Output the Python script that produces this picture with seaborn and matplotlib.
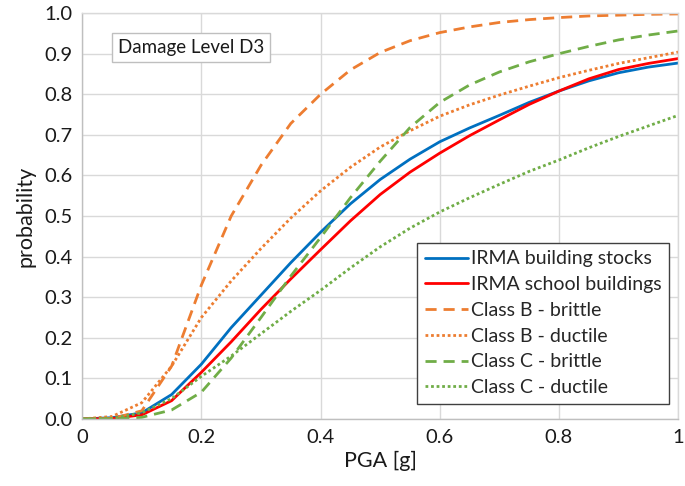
import matplotlib
matplotlib.use("Agg")
import matplotlib.pyplot as plt
import seaborn as sns
import pandas as pd

# PGA grid and curves
pga = [0, 0.05, 0.1, 0.15, 0.2, 0.25, 0.3, 0.35, 0.4, 0.45, 0.5,
       0.55, 0.6, 0.65, 0.7, 0.75, 0.8, 0.85, 0.9, 0.95, 1.0]

irma_stock = [0, 0.003, 0.015, 0.06, 0.135, 0.225, 0.305, 0.385, 0.46, 0.53, 0.59,
              0.64, 0.683, 0.717, 0.748, 0.78, 0.808, 0.833, 0.853, 0.867, 0.877]
irma_school = [0, 0.001, 0.01, 0.045, 0.115, 0.19, 0.27, 0.345, 0.417, 0.488, 0.553,
               0.608, 0.655, 0.698, 0.737, 0.775, 0.808, 0.838, 0.861, 0.876, 0.888]
b_brittle = [0, 0.001, 0.02, 0.13, 0.33, 0.50, 0.625, 0.728, 0.80, 0.86, 0.903,
             0.932, 0.952, 0.966, 0.977, 0.984, 0.989, 0.993, 0.995, 0.997, 0.998]
b_ductile = [0, 0.006, 0.04, 0.13, 0.25, 0.34, 0.42, 0.495, 0.562, 0.62, 0.67,
             0.71, 0.746, 0.774, 0.798, 0.82, 0.841, 0.859, 0.876, 0.89, 0.904]
c_brittle = [0, 0.0, 0.004, 0.022, 0.066, 0.15, 0.25, 0.352, 0.447, 0.545, 0.635,
             0.718, 0.78, 0.823, 0.855, 0.88, 0.90, 0.918, 0.934, 0.946, 0.956]
c_ductile = [0, 0.001, 0.015, 0.05, 0.105, 0.155, 0.21, 0.265, 0.317, 0.372, 0.424,
             0.47, 0.51, 0.545, 0.578, 0.61, 0.638, 0.668, 0.696, 0.722, 0.748]

series = [
    ("IRMA building stocks", irma_stock, "#0070C0", "-"),
    ("IRMA school buildings", irma_school, "#FF0000", "-"),
    ("Class B - brittle", b_brittle, "#ED7D31", (0, (4, 2.5))),
    ("Class B - ductile", b_ductile, "#ED7D31", (0, (1, 1))),
    ("Class C - brittle", c_brittle, "#70AD47", (0, (4, 2.5))),
    ("Class C - ductile", c_ductile, "#70AD47", (0, (1, 1))),
]

sns.set_theme(style="whitegrid")
plt.rcParams["font.family"] = ["Lato", "DejaVu Sans"]

fig, ax = plt.subplots(figsize=(6.85, 4.86), dpi=100)
fig.subplots_adjust(left=0.12, right=0.99, top=0.973, bottom=0.138)

for name, vals, col, ls in series:
    df = pd.DataFrame({"PGA": pga, "p": vals})
    sns.lineplot(data=df, x="PGA", y="p", ax=ax, color=col, linewidth=2.0,
                 linestyle=ls, label=name)

ax.set_xlim(0, 1)
ax.set_ylim(0, 1)
ax.set_xticks([0, 0.2, 0.4, 0.6, 0.8, 1.0])
ax.set_xticklabels(["0", "0.2", "0.4", "0.6", "0.8", "1"])
ax.set_yticks([i / 10 for i in range(11)])
ax.set_yticklabels([f"{i / 10:.1f}" for i in range(11)])
ax.tick_params(labelsize=14.5, colors="#1a1a1a", length=0, pad=7)
ax.set_xlabel("PGA [g]", fontsize=15.5, color="#1a1a1a", labelpad=4)
ax.set_ylabel("probability", fontsize=15.5, color="#1a1a1a", labelpad=6)
ax.grid(color="#D9D9D9", linewidth=1)
for s in ax.spines.values():
    s.set_color("#D9D9D9")
    s.set_linewidth(1)
ax.spines["left"].set_color("#BFBFBF")
ax.spines["bottom"].set_color("#BFBFBF")

ax.text(0.06, 0.915, "Damage Level D3", transform=ax.transAxes, fontsize=13.5,
        color="#1a1a1a", va="center",
        bbox=dict(boxstyle="square,pad=0.3", fc="white", ec="#BFBFBF", lw=1))

leg = ax.legend(loc="lower right", bbox_to_anchor=(0.985, 0.037), fontsize=14,
                frameon=True, fancybox=False, framealpha=1, edgecolor="#404040",
                handlelength=2.2, handletextpad=0.15, borderpad=0.4,
                labelspacing=0.45, borderaxespad=0)
leg.get_frame().set_linewidth(1)

fig.savefig("out.png", dpi=100)
